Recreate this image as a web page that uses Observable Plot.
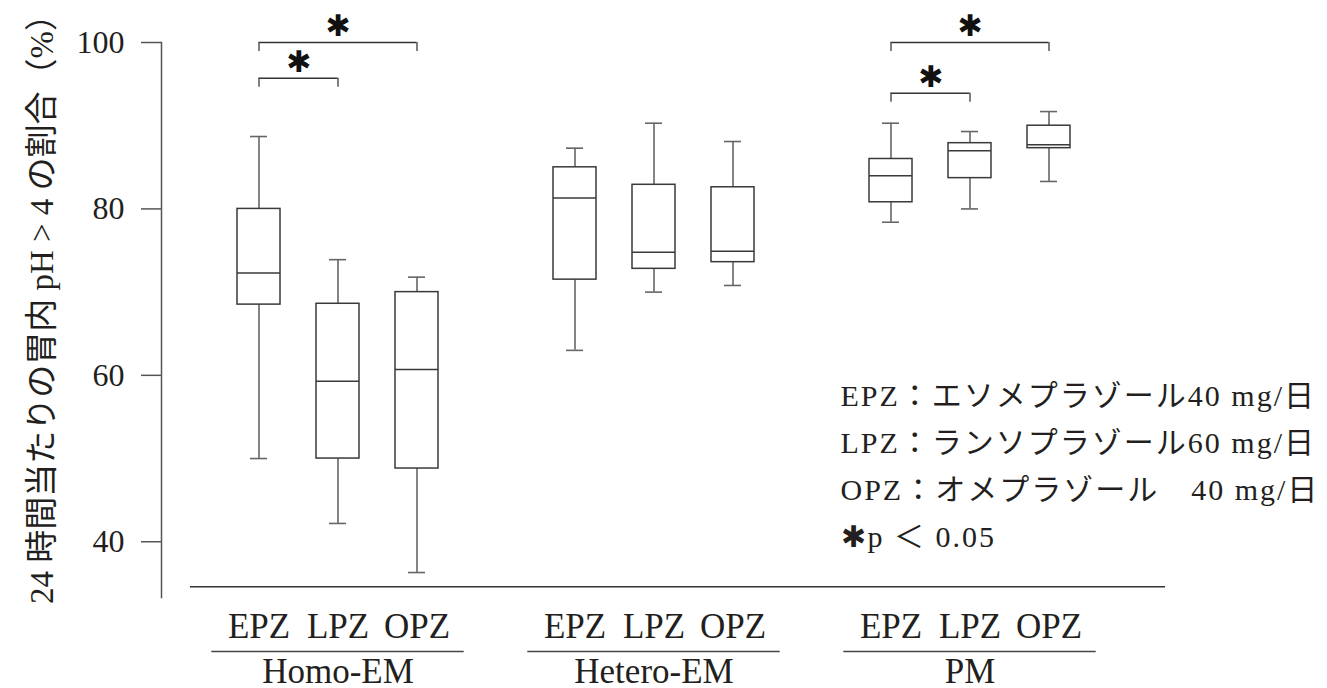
<!DOCTYPE html>
<html>
<head>
<meta charset="utf-8">
<script src="https://cdn.jsdelivr.net/npm/d3@7"></script>
<script src="https://cdn.jsdelivr.net/npm/@observablehq/plot@0.6"></script>
<style>
  html, body { margin: 0; padding: 0; background: #fff; }
  #chart svg { display: block; }
</style>
</head>
<body>
<div id="chart"></div>
<script>
// ---- data ----
const groups = ["Homo-EM", "Hetero-EM", "PM"];
const drugs = ["EPZ", "LPZ", "OPZ"];
// order: Homo EPZ, LPZ, OPZ, Hetero EPZ, LPZ, OPZ, PM EPZ, LPZ, OPZ
const whiskerLow  = [50.0, 42.2, 36.3, 63.0, 70.0, 70.8, 78.4, 80.0, 83.3];
const q1          = [68.5, 50.0, 48.8, 71.5, 72.8, 73.6, 80.8, 83.7, 87.3];
const median      = [72.3, 59.3, 60.7, 81.3, 74.8, 74.9, 84.0, 87.0, 87.7];
const q3          = [80.0, 68.6, 70.0, 85.0, 82.9, 82.6, 86.0, 87.9, 90.0];
const whiskerHigh = [88.7, 73.9, 71.8, 87.3, 90.3, 88.1, 90.3, 89.3, 91.7];
const yTicks = [40, 60, 80, 100];
const yDomain = [33.3, 100];
const baselineValue = 34.6;
// significance brackets
const bracketGroup = ["Homo-EM", "Homo-EM", "PM", "PM"];
const bracketFrom  = ["EPZ", "EPZ", "EPZ", "EPZ"];
const bracketTo    = ["OPZ", "LPZ", "OPZ", "LPZ"];
const bracketY     = [100, 95.7, 100, 93.9];
const yLabel = "24 時間当たりの胃内 pH > 4 の割合（%）";
const legendLines = [
  "EPZ：エソメプラゾール40 mg/日",
  "LPZ：ランソプラゾール60 mg/日",
  "OPZ：オメプラゾール　40 mg/日",
  "✱p ＜ 0.05"
];

// ---- derived tables ----
const key = (g, d) => `${g} ${d}`;
const stats = [];
groups.forEach((g, gi) => drugs.forEach((d, di) => {
  const i = gi * drugs.length + di;
  stats.push({group: g, drug: d, key: key(g, d),
    low: whiskerLow[i], q1: q1[i], median: median[i], q3: q3[i], high: whiskerHigh[i]});
}));
const domain = [];
groups.forEach((g, gi) => {
  drugs.forEach(d => domain.push(key(g, d)));
  if (gi < groups.length - 1) domain.push(`gap${gi}`);
});
const brackets = bracketGroup.map((g, i) => ({
  from: key(g, bracketFrom[i]), to: key(g, bracketTo[i]), y: bracketY[i],
  span: drugs.indexOf(bracketTo[i]) - drugs.indexOf(bracketFrom[i]),
  mid: key(g, drugs[(drugs.indexOf(bracketFrom[i]) + drugs.indexOf(bracketTo[i])) / 2] ?? bracketFrom[i])
}));
const bracketEnds = brackets.flatMap(b => [{key: b.from, y: b.y}, {key: b.to, y: b.y}]);

// ---- styles ----
const serif = "'Liberation Serif', 'Noto Sans CJK JP', serif";
const ink = "#231f20";
const boxStroke = "#3a3a3a";
const whiskerStroke = "#666";
const paddingInner = 0.458;
const halfStep = 39.7;   // half of band step, for asterisks between neighbouring boxes
const halfBand = 21.5;

const chart = Plot.plot({
  width: 1327,
  height: 688,
  marginLeft: 161,
  marginRight: 162,
  marginTop: 42,
  marginBottom: 91,
  style: {background: "#fff", color: ink, overflow: "visible"},
  x: {type: "band", domain, paddingInner, paddingOuter: 0.5, insetLeft: 34.7, insetRight: 53.6, axis: null},
  y: {domain: yDomain, axis: null},
  marks: [
    // baseline and y axis line
    Plot.ruleY([baselineValue], {insetLeft: 29, stroke: "#333", strokeWidth: 1.5}),
    Plot.frame({anchor: "left", stroke: "#555", strokeWidth: 1.5}),
    Plot.axisY({ticks: yTicks, tickSize: 20, tickPadding: 17, fontSize: 32, fontFamily: "'Liberation Serif', serif",
      stroke: "#555", strokeWidth: 1.5, fill: ink, label: null}),
    // whiskers
    Plot.ruleX(stats, {x: "key", y1: "low", y2: "q1", stroke: whiskerStroke, strokeWidth: 1.6}),
    Plot.ruleX(stats, {x: "key", y1: "q3", y2: "high", stroke: whiskerStroke, strokeWidth: 1.6}),
    Plot.tickY(stats, {x: "key", y: "low", inset: 13, stroke: whiskerStroke, strokeWidth: 1.6}),
    Plot.tickY(stats, {x: "key", y: "high", inset: 13, stroke: whiskerStroke, strokeWidth: 1.6}),
    // boxes
    Plot.barY(stats, {x: "key", y1: "q1", y2: "q3", fill: "white", stroke: boxStroke, strokeWidth: 1.5}),
    Plot.tickY(stats, {x: "key", y: "median", stroke: boxStroke, strokeWidth: 1.5}),
    // significance brackets
    Plot.ruleY(brackets, {x1: "from", x2: "to", y: "y", insetLeft: halfBand, insetRight: halfBand, stroke: "#333", strokeWidth: 1.5}),
    Plot.ruleX(bracketEnds, {x: "key", y1: "y", y2: "y", insetBottom: -9, stroke: "#555", strokeWidth: 1.5}),
    Plot.text(brackets.filter(b => b.span === 2), {x: "mid", y: "y", text: () => "✱", dy: -16,
      fontSize: 30, fontFamily: "'DejaVu Sans', sans-serif", fill: "#111"}),
    Plot.text(brackets.filter(b => b.span === 1), {x: "from", y: "y", text: () => "✱", dx: halfStep, dy: -16,
      fontSize: 30, fontFamily: "'DejaVu Sans', sans-serif", fill: "#111"}),
    // x labels
    Plot.text(stats, {x: "key", text: "drug", frameAnchor: "bottom", dy: 40, fontSize: 35, fontFamily: serif, fill: ink}),
    Plot.ruleY(groups, {x1: g => key(g, drugs[0]), x2: g => key(g, drugs[drugs.length - 1]), y: null,
      dy: 331.5, insetLeft: -25.7, insetRight: -25.7, stroke: "#444", strokeWidth: 1.5}),
    Plot.text(groups, {x: g => key(g, drugs[1]), text: d => d, frameAnchor: "bottom", dy: 85, fontSize: 35, fontFamily: serif, fill: ink}),
    // y label
    Plot.text([yLabel], {frameAnchor: "left", textAnchor: "middle", rotate: -90, dx: -119, dy: -19, fontSize: 33, fontFamily: serif, fill: ink}),
    // legend
    Plot.text([legendLines.join("\n")], {frameAnchor: "top-left", dx: 679, dy: 330, textAnchor: "start", lineAnchor: "top",
      lineHeight: 1.57, fontSize: 30, fontFamily: serif, fill: ink})
  ]
});
// widen the legend's letter spacing slightly
chart.querySelectorAll("text").forEach(t => {
  if (t.textContent.includes("mg/")) t.style.letterSpacing = "2px";
});
document.getElementById("chart").append(chart);
</script>
</body>
</html>
